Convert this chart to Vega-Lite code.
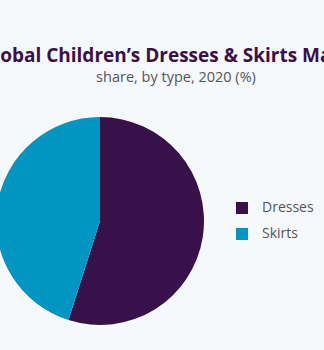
{
  "$schema": "https://vega.github.io/schema/vega-lite/v6.json",
  "width": 200,
  "height": 208,
  "autosize": {"type": "none"},
  "padding": {"left": 0, "top": 117, "right": 124, "bottom": 25},
  "background": "#f5f9fc",
  "config": {"view": {"stroke": null}},
  "title": {
    "text": "Global Children’s Dresses & Skirts Market",
    "subtitle": "share, by type, 2020 (%)",
    "anchor": "middle",
    "dx": 76,
    "offset": 33,
    "font": "Open Sans",
    "fontSize": 19,
    "fontWeight": "bold",
    "color": "#3b1048",
    "subtitleFont": "Open Sans",
    "subtitleFontSize": 14.5,
    "subtitleColor": "#555555",
    "subtitlePadding": 5
  },
  "data": {
    "values": [
      {"type": "Dresses", "share": 54.9},
      {"type": "Skirts", "share": 45.1}
    ]
  },
  "mark": {"type": "arc", "outerRadius": 104},
  "encoding": {
    "theta": {"field": "share", "type": "quantitative", "stack": true},
    "order": {"field": "type", "sort": "ascending"},
    "color": {
      "field": "type",
      "type": "nominal",
      "scale": {"domain": ["Dresses", "Skirts"], "range": ["#38104a", "#0196c1"]},
      "legend": {
        "title": null,
        "orient": "none",
        "legendX": 235,
        "legendY": 84,
        "symbolType": "square",
        "symbolSize": 144,
        "symbolStrokeWidth": 0,
        "symbolOpacity": 1,
        "rowPadding": 12,
        "labelFont": "Open Sans",
        "labelFontSize": 14,
        "labelColor": "#555555",
        "labelOffset": 13
      }
    }
  }
}
